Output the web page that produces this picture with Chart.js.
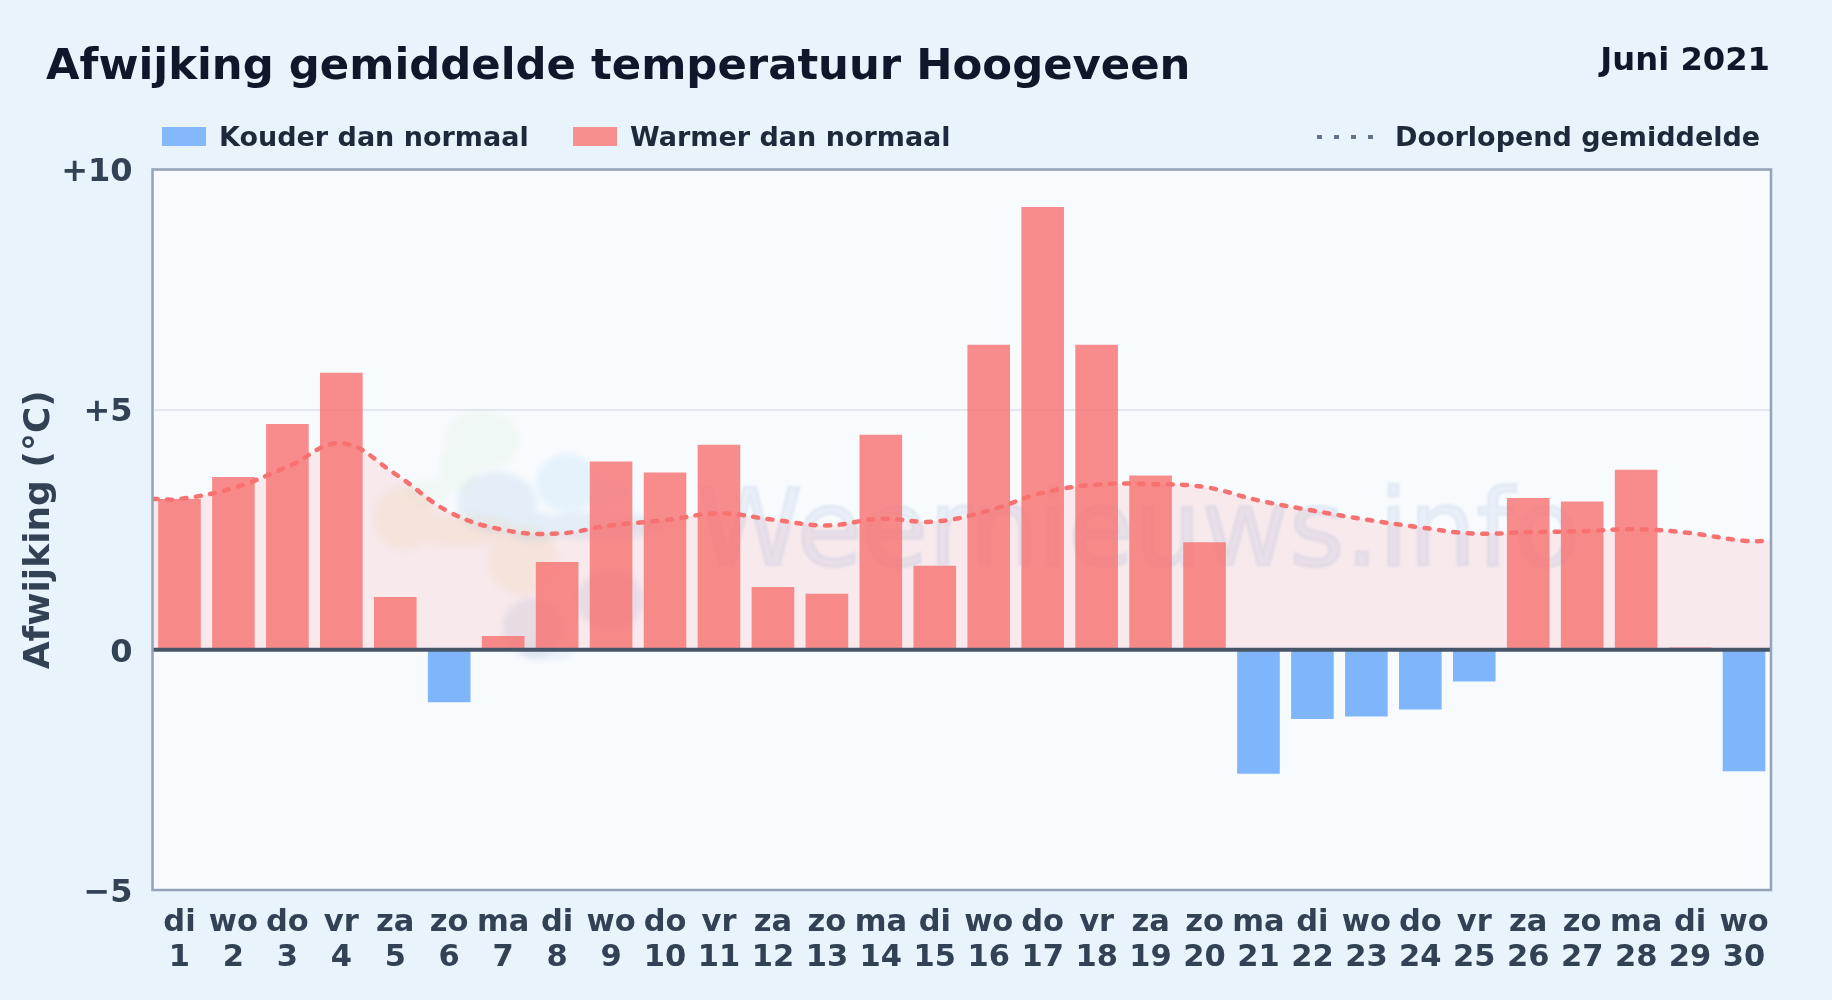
<!DOCTYPE html>
<html lang="nl">
<head>
<meta charset="utf-8">
<title>Afwijking gemiddelde temperatuur Hoogeveen</title>
<script src="https://cdn.jsdelivr.net/npm/chart.js@4"></script>
<style>
html,body{margin:0;padding:0;width:1832px;height:1000px;overflow:hidden;background:#e8f3fc;font-family:"DejaVu Sans",sans-serif;font-weight:700}
canvas{position:absolute;left:0;top:0}
.t{position:absolute;line-height:1;white-space:nowrap}
#title{left:46px;top:43px;font-size:43.35px;color:#0f172a}
#period{right:62px;top:43px;font-size:32.2px;color:#0f172a}
.leg{top:123px;font-size:27px;color:#1e293b}
.sw{position:absolute;top:127px;height:19px;width:44px}
#dots{position:absolute;left:1317px;top:135px;width:56px;height:4px;background:repeating-linear-gradient(90deg,#64748b 0 5px,transparent 5px 17px)}
</style>
</head>
<body>
<canvas id="c" width="1832" height="1000"></canvas>
<div class="t" id="title">Afwijking gemiddelde temperatuur Hoogeveen</div>
<div class="t" id="period">Juni 2021</div>
<div class="sw" style="left:162px;background:#82b7fc"></div>
<div class="t leg" style="left:219px">Kouder dan normaal</div>
<div class="sw" style="left:573px;background:#f78f8f"></div>
<div class="t leg" style="left:630px">Warmer dan normaal</div>
<div id="dots"></div>
<div class="t leg" style="left:1395px">Doorlopend gemiddelde</div>
<script>
const weekdays = ['di','wo','do','vr','za','zo','ma','di','wo','do','vr','za','zo','ma','di','wo','do','vr','za','zo','ma','di','wo','do','vr','za','zo','ma','di','wo'];
const dayNumbers = [1,2,3,4,5,6,7,8,9,10,11,12,13,14,15,16,17,18,19,20,21,22,23,24,25,26,27,28,29,30];
const deviations = [3.14,3.6,4.7,5.77,1.1,-1.09,0.29,1.83,3.92,3.69,4.27,1.31,1.17,4.48,1.75,6.35,9.22,6.35,3.63,2.24,-2.58,-1.44,-1.39,-1.24,-0.66,3.16,3.09,3.75,0.05,-2.53];
const runningMean = [3.14,3.37,3.81,4.30,3.66,2.87,2.50,2.42,2.59,2.70,2.84,2.71,2.59,2.73,2.67,2.90,3.27,3.44,3.45,3.39,3.11,2.90,2.71,2.55,2.42,2.45,2.47,2.51,2.43,2.27];
const yTickValues = [-5,0,5,10];
const yTickLabels = ['\u22125','0','+5','+10'];
const labels = weekdays.map((d,i)=>[d,String(dayNumbers[i])]);
const warm = deviations.map(v=>v>=0?v:null);
const cold = deviations.map(v=>v<0?v:null);
const linePoints = [{x:dayNumbers[0]-0.5,y:runningMean[0]}]
  .concat(runningMean.map((v,i)=>({x:dayNumbers[i],y:v})))
  .concat([{x:dayNumbers[29]+0.5,y:runningMean[29]}]);

const logoShapes = [
  ['rgba(185,225,165,.10)',[[482,440,38,30],[458,468,20,26],[428,492,22,14]]],
  ['rgba(150,205,245,.18)',[[567,483,31,29],[600,492,30,14]]],
  ['rgba(130,175,220,.16)',[[497,503,40,31],[535,527,30,15],[600,525,62,14]]],
  ['rgba(235,195,130,.14)',[[404,518,30,32],[460,530,58,16],[523,560,35,35]]],
  ['rgba(115,125,170,.12)',[[533,628,30,30],[610,600,33,30]]],
  ['rgba(130,175,220,.12)',[[548,652,26,8]]]
];
const frame = {
  id:'frame',
  beforeDatasetsDraw(ch){
    const g=ch.ctx;
    g.save();
    g.filter='blur(3px)';
    logoShapes.forEach(s=>{
      g.fillStyle=s[0];g.beginPath();
      s[1].forEach(e=>{g.moveTo(e[0]+e[2],e[1]);g.ellipse(e[0],e[1],e[2],e[3],0,0,Math.PI*2);});
      g.fill();
    });
    g.filter='blur(1px)';
    g.fillStyle='rgba(130,160,205,.12)';
    g.strokeStyle='rgba(130,160,205,.10)';
    g.lineWidth=3;
    g.font='400 107px "DejaVu Sans"';
    g.textBaseline='alphabetic';
    g.strokeText('Weernieuws.info',697,565);
    g.fillText('Weernieuws.info',697,565);
    g.restore();
  },
  beforeDraw(ch){
    const a=ch.chartArea,g=ch.ctx;
    g.save();g.fillStyle='#f7fbfe';g.fillRect(a.left,a.top,a.width,a.height);g.restore();
  },
  afterDatasetsDraw(ch){
    const a=ch.chartArea,g=ch.ctx,y0=ch.scales.y.getPixelForValue(0);
    g.save();
    g.strokeStyle='#475569';g.lineWidth=4;g.beginPath();g.moveTo(a.left,y0);g.lineTo(a.right,y0);g.stroke();
    g.strokeStyle='#94a3b8';g.lineWidth=2.5;g.strokeRect(a.left,a.top,a.width,a.height);
    g.restore();
  }
};

new Chart(document.getElementById('c'),{
  data:{labels,datasets:[
    {type:'line',label:'Doorlopend gemiddelde',data:linePoints,xAxisID:'xLine',yAxisID:'y',order:0,
     borderColor:'#f87171',borderWidth:4.5,borderDash:[5,9.5],borderCapStyle:'round',tension:0.4,pointRadius:0,
     fill:{target:'origin',above:'rgba(248,113,113,0.13)',below:'rgba(248,113,113,0)'}},
    {type:'bar',label:'Warmer dan normaal',data:warm,backgroundColor:'rgba(248,113,113,0.8)',xAxisID:'x',yAxisID:'y',order:1,grouped:false,barPercentage:0.79,categoryPercentage:1},
    {type:'bar',label:'Kouder dan normaal',data:cold,backgroundColor:'rgba(96,165,250,0.8)',xAxisID:'x',yAxisID:'y',order:2,grouped:false,barPercentage:0.79,categoryPercentage:1}
  ]},
  options:{
    responsive:false,animation:false,devicePixelRatio:1,
    layout:{padding:{top:169.5,right:61,left:0,bottom:0}},
    plugins:{legend:{display:false},title:{display:false},tooltip:{enabled:false},filler:{drawTime:'beforeDatasetsDraw'}},
    scales:{
      x:{type:'category',offset:true,grid:{display:false},border:{display:false},
         afterFit(s){s.height=110;},
         ticks:{autoSkip:false,maxRotation:0,minRotation:0,padding:8,color:'#334155',font:{family:'"DejaVu Sans"',size:30.5,weight:'700',lineHeight:1.14}}},
      xLine:{type:'linear',display:false,min:0.5,max:30.5},
      y:{type:'linear',min:-5,max:10,
         grid:{color:'#e2e8f0',lineWidth:2,drawTicks:false},border:{display:false},
         afterFit(s){s.width=152.5;},
         afterBuildTicks(s){s.ticks=yTickValues.map(v=>({value:v}));},
         title:{display:true,text:'Afwijking (\u00b0C)',color:'#334155',font:{family:'"DejaVu Sans"',size:36,weight:'700'},padding:{top:18,bottom:0}},
         ticks:{padding:20,color:'#334155',font:{family:'"DejaVu Sans"',size:32,weight:'700',lineHeight:0.22},
           callback(v){const i=yTickValues.indexOf(v);return i<0?'':['',yTickLabels[i]];}}}
    }
  },
  plugins:[frame]
});
</script>
</body>
</html>
